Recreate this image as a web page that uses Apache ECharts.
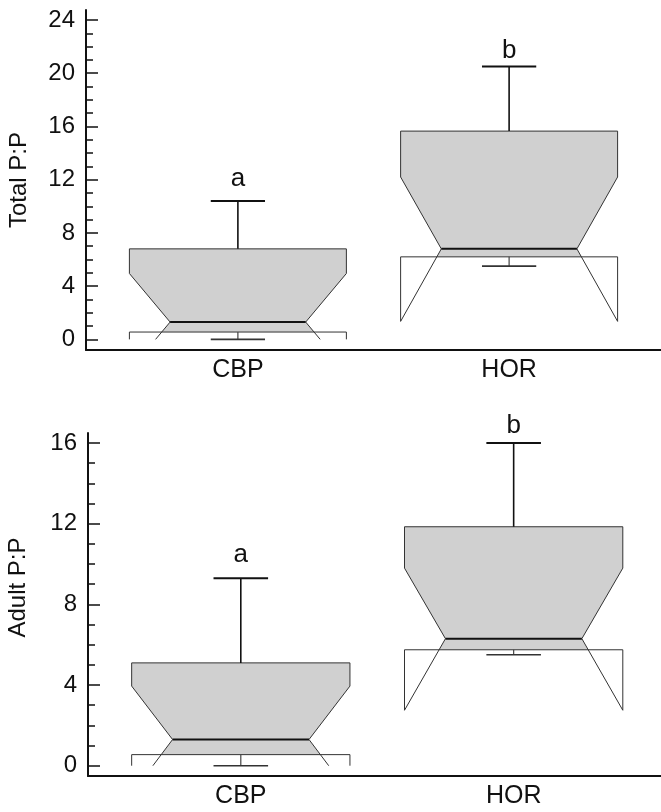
<!DOCTYPE html>
<html>
<head>
<meta charset="utf-8">
<script src="https://cdn.jsdelivr.net/npm/echarts@6/dist/echarts.min.js"></script>
<style>
html,body{margin:0;padding:0;background:#fff;}
#chart{width:661px;height:812px;}
</style>
</head>
<body>
<div id="chart"></div>
<script>
// ---- data ----
const categories = ['CBP', 'HOR'];
const groupLetters = ['a', 'b'];

const totalMin = [0, 5.5];
const totalQ1 = [0.55, 6.2];
const totalMedian = [1.3, 6.8];
const totalQ3 = [6.8, 15.65];
const totalMax = [10.4, 20.5];
const totalNotchLow = [-2.35, 1.35];
const totalNotchHigh = [4.95, 12.2];
const totalLetterY = [12.1, 21.7];

const adultMin = [0, 5.5];
const adultQ1 = [0.55, 5.75];
const adultMedian = [1.3, 6.3];
const adultQ3 = [5.1, 11.85];
const adultMax = [9.3, 16.0];
const adultNotchLow = [-1.4, 2.75];
const adultNotchHigh = [3.95, 9.8];
const adultLetterY = [10.45, 16.85];

const totalTicks = [0, 4, 8, 12, 16, 20, 24];
const adultTicks = [0, 4, 8, 12, 16];
const totalMinorTicks = Array.from({length: 25}, (_, i) => i);
const adultMinorTicks = Array.from({length: 17}, (_, i) => i);

// ---- build ----
function buildData(mn, q1, md, q3, mx, nl, nh, ly) {
  return categories.map((c, i) => [i + 1, mn[i], q1[i], md[i], q3[i], mx[i], nl[i], nh[i], ly[i]]);
}
const totalData = buildData(totalMin, totalQ1, totalMedian, totalQ3, totalMax, totalNotchLow, totalNotchHigh, totalLetterY);
const adultData = buildData(adultMin, adultQ1, adultMedian, adultQ3, adultMax, adultNotchLow, adultNotchHigh, adultLetterY);

const W = 0.4, N = 0.25, C = 0.1, CLIP = 0;
const FILL = '#d0d0d0', EDGE = '#333', DARK = '#111';
const FONT = '"Liberation Sans", Arial, sans-serif';

function renderBox(params, api) {
  const x = api.value(0);
  const mn = api.value(1), q1 = api.value(2), md = api.value(3), q3 = api.value(4),
        mx = api.value(5), nl = api.value(6), nh = api.value(7), ly = api.value(8);
  const P = (dx, v) => api.coord([x + dx, v]);
  const tQ1 = (md - q1) / (md - nl);
  const xq = N + (W - N) * tQ1;
  const nlEff = Math.max(nl, CLIP);
  const tE = (md - nlEff) / (md - nl);
  const xe = N + (W - N) * tE;
  const L = (a, b, stroke, lw) => ({type: 'line', shape: {x1: a[0], y1: a[1], x2: b[0], y2: b[1]}, style: {stroke, lineWidth: lw}});
  const children = [];
  children.push({
    type: 'polygon',
    shape: {points: [P(-W, q3), P(W, q3), P(W, nh), P(N, md), P(xq, q1), P(-xq, q1), P(-N, md), P(-W, nh)]},
    style: {fill: FILL, stroke: null}
  });
  children.push({
    type: 'polyline',
    shape: {points: [P(-N, md), P(-W, nh), P(-W, q3), P(W, q3), P(W, nh), P(N, md)]},
    style: {fill: null, stroke: EDGE, lineWidth: 1}
  });
  children.push(L(P(-N, md), P(-xe, nlEff), EDGE, 1));
  children.push(L(P(N, md), P(xe, nlEff), EDGE, 1));
  children.push({
    type: 'polyline',
    shape: {points: [P(-W, nlEff), P(-W, q1), P(W, q1), P(W, nlEff)]},
    style: {fill: null, stroke: EDGE, lineWidth: 1}
  });
  children.push(L(P(-N, md), P(N, md), DARK, 2));
  children.push(L(P(0, q3), P(0, mx), DARK, 1.6));
  children.push(L(P(-C, mx), P(C, mx), DARK, 2));
  children.push(L(P(0, q1), P(0, mn), '#444', 1.2));
  children.push(L(P(-C, mn), P(C, mn), '#333', 1.6));
  const lp = P(0, ly);
  children.push({
    type: 'text', x: lp[0], y: lp[1],
    style: {text: groupLetters[params.dataIndex], font: '26px ' + FONT, fill: '#111', align: 'center', verticalAlign: 'middle'}
  });
  return {type: 'group', children};
}

function yAxes(gridIndex, min, max, majors, minors) {
  return [
    {
      type: 'value', gridIndex, min, max, position: 'left',
      axisLine: {show: true, onZero: false, lineStyle: {color: '#111', width: 2}},
      axisTick: {show: true, inside: true, length: 7, customValues: minors, lineStyle: {color: '#111', width: 1.5}},
      axisLabel: {show: true, customValues: majors, margin: 11, fontSize: 24, color: '#111', fontFamily: FONT},
      splitLine: {show: false}
    },
    {
      type: 'value', gridIndex, min, max, position: 'left', offset: 0,
      axisLine: {show: false, onZero: false},
      axisTick: {show: true, inside: true, length: 12, customValues: majors, lineStyle: {color: '#111', width: 1.5}},
      axisLabel: {show: false},
      splitLine: {show: false}
    }
  ];
}

function xAxis(gridIndex, min, max) {
  return {
    type: 'value', gridIndex, min, max,
    axisLine: {show: true, onZero: false, lineStyle: {color: '#111', width: 2}},
    axisTick: {show: false},
    axisLabel: {show: true, customValues: [1, 2], margin: 8, fontSize: 25, color: '#111', fontFamily: FONT,
      formatter: v => categories[Math.round(v) - 1] || ''},
    splitLine: {show: false}
  };
}

const chart = echarts.init(document.getElementById('chart'), null, {renderer: 'canvas'});
chart.setOption({
  animation: false,
  backgroundColor: '#fff',
  grid: [
    {left: 86, right: 0, top: 10, height: 340},
    {left: 88, right: 0, top: 433, height: 343}
  ],
  xAxis: [xAxis(0, 0.44, 2.56), xAxis(1, 0.44, 2.54)],
  yAxis: [...yAxes(0, -0.8, 24.75, totalTicks, totalMinorTicks), ...yAxes(1, -0.51, 16.5, adultTicks, adultMinorTicks)],
  graphic: [
    {type: 'text', x: 19, y: 180, rotation: Math.PI / 2,
      style: {text: 'Total P:P', font: '24px ' + FONT, fill: '#111', align: 'center', verticalAlign: 'middle'}},
    {type: 'text', x: 18.5, y: 587.5, rotation: Math.PI / 2,
      style: {text: 'Adult P:P', font: '24px ' + FONT, fill: '#111', align: 'center', verticalAlign: 'middle'}}
  ],
  series: [
    {type: 'custom', xAxisIndex: 0, yAxisIndex: 0, renderItem: renderBox, data: totalData, clip: false,
      encode: {x: 0, y: [1, 2, 3, 4, 5, 6, 7, 8]}},
    {type: 'custom', xAxisIndex: 1, yAxisIndex: 2, renderItem: renderBox, data: adultData, clip: false,
      encode: {x: 0, y: [1, 2, 3, 4, 5, 6, 7, 8]}}
  ]
});
</script>
</body>
</html>
